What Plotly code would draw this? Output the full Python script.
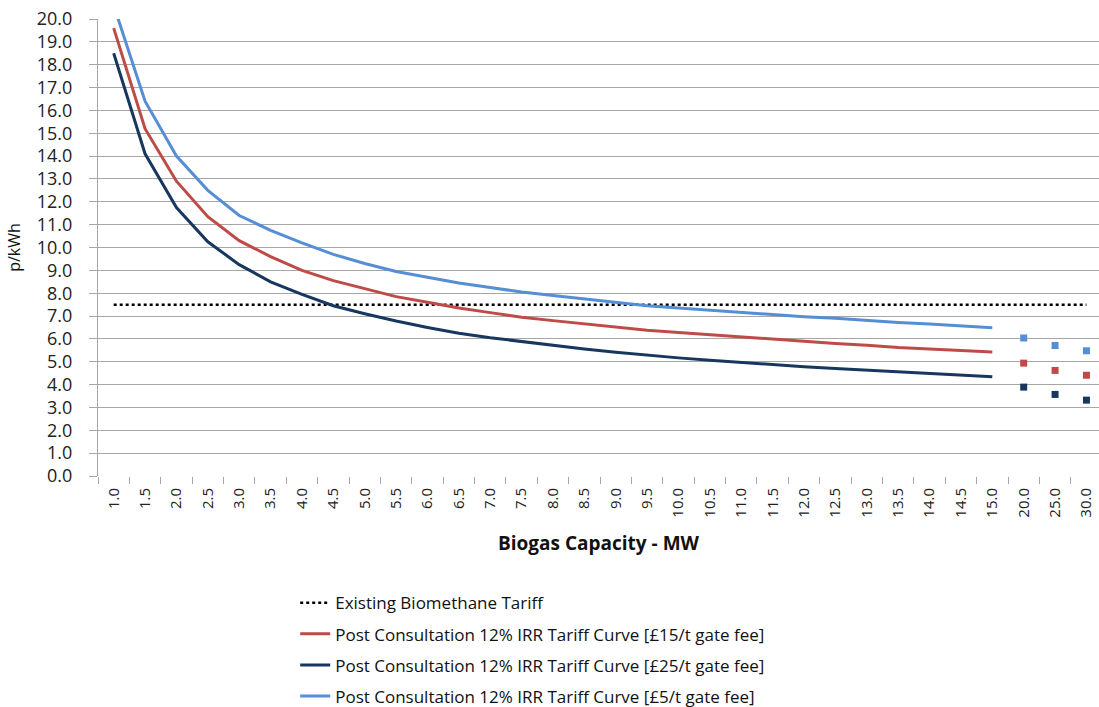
import plotly.graph_objects as go

categories = ["1.0","1.5","2.0","2.5","3.0","3.5","4.0","4.5","5.0","5.5","6.0","6.5","7.0","7.5",
              "8.0","8.5","9.0","9.5","10.0","10.5","11.0","11.5","12.0","12.5","13.0","13.5",
              "14.0","14.5","15.0","20.0","25.0","30.0"]

existing_tariff = [7.5] * len(categories)

gate15 = [19.6, 15.2, 12.9, 11.35, 10.3, 9.6, 9.0, 8.55, 8.2, 7.85, 7.6, 7.35, 7.15, 6.95,
          6.8, 6.65, 6.52, 6.38, 6.28, 6.18, 6.07, 5.98, 5.88, 5.8, 5.72, 5.62,
          5.56, 5.5, 5.43, 4.94, 4.62, 4.41]
gate25 = [18.5, 14.1, 11.75, 10.25, 9.25, 8.5, 7.95, 7.45, 7.1, 6.78, 6.5, 6.25, 6.05, 5.88,
          5.7, 5.56, 5.42, 5.28, 5.17, 5.07, 4.97, 4.88, 4.78, 4.71, 4.63, 4.55,
          4.48, 4.42, 4.34, 3.89, 3.57, 3.32]
gate5 = [20.6, 16.4, 14.0, 12.5, 11.4, 10.75, 10.2, 9.7, 9.3, 8.95, 8.7, 8.45, 8.25, 8.05,
         7.9, 7.75, 7.6, 7.45, 7.35, 7.25, 7.15, 7.07, 6.97, 6.9, 6.8, 6.72,
         6.65, 6.58, 6.49, 6.04, 5.71, 5.48]

n_line = 29  # curve drawn as a line up to 15.0 MW; larger plants shown as points

RED = "#BE4B48"
DARK = "#17375E"
BLUE = "#558ED5"
GRID = "#A6A6A6"

fig = go.Figure()
fig.add_trace(go.Scatter(x=categories, y=existing_tariff, mode="lines",
                         name="Existing Biomethane Tariff", legendgroup="a",
                         line=dict(color="black", width=2.5, dash="dot")))
series = [("Post Consultation 12% IRR Tariff Curve [£15/t gate fee]", gate15, RED, "b"),
          ("Post Consultation 12% IRR Tariff Curve [£25/t gate fee]", gate25, DARK, "c"),
          ("Post Consultation 12% IRR Tariff Curve [£5/t gate fee]", gate5, BLUE, "d")]
for name, vals, col, grp in series:
    fig.add_trace(go.Scatter(x=categories[:n_line], y=vals[:n_line], mode="lines", name=name,
                             legendgroup=grp, line=dict(color=col, width=3)))
    fig.add_trace(go.Scatter(x=categories[n_line:], y=vals[n_line:], mode="markers", name=name,
                             legendgroup=grp, showlegend=False,
                             marker=dict(color=col, symbol="square", size=7)))

fig.update_layout(
    width=1099, height=707,
    margin=dict(l=98, r=0, t=19, b=231, autoexpand=False),
    paper_bgcolor="white", plot_bgcolor="white",
    font=dict(family="Open Sans", size=15, color="#222222"),
    showlegend=True,
    legend=dict(x=0.197, y=-0.239, xanchor="left", yanchor="top", orientation="v",
                traceorder="grouped", tracegroupgap=6,
                font=dict(family="Open Sans", size=17, color="#111111"),
                bgcolor="rgba(0,0,0,0)"),
    xaxis=dict(type="category", categoryorder="array", categoryarray=categories,
               tickangle=-90, tickson="boundaries", ticks="outside", ticklen=7,
               ticklabelstandoff=8, automargin=False, ticklabeloverflow="allow",
               tickcolor=GRID, showgrid=False, showline=False,
               tickfont=dict(size=15, color="#222222"),
               title=dict(text="<b>Biogas Capacity - MW</b>", font=dict(size=19, color="#111111"),
                          standoff=20),
               range=[-0.5, 31.4]),
    yaxis=dict(range=[0, 20], dtick=1, tickformat=".1f", ticks="outside", ticklen=8,
               ticklabelstandoff=13, automargin=False, ticklabeloverflow="allow",
               tickcolor=GRID, showline=True, linecolor=GRID, linewidth=1,
               gridcolor=GRID, gridwidth=1, zeroline=False,
               tickfont=dict(size=18, color="#222222"),
               title=dict(text="p/kWh", font=dict(size=16, color="#111111"), standoff=12)),
)

# remove the browser's default 8px body margin so the figure fills the window exactly
fig.write_html("out.html", config={"displayModeBar": False},
               post_script="document.body.style.margin='0';")
